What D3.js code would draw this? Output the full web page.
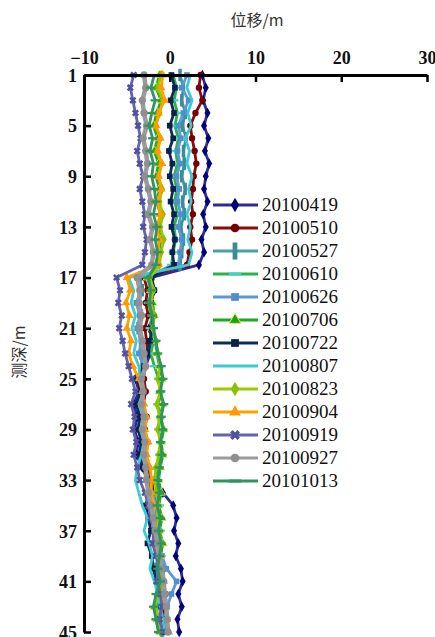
<!DOCTYPE html>
<html><head><meta charset="utf-8">
<script src="https://cdn.jsdelivr.net/npm/d3@7"></script>
<style>
body{margin:0;background:#fff;}
svg{display:block;}
.serif{font-family:"Liberation Serif","DejaVu Serif",serif;}
</style></head>
<body>
<script>
// ---- data ----
const depths = d3.range(1, 46); // 1..45 m
const xTicks = [-10, 0, 10, 20, 30];
const yTicks = [1, 5, 9, 13, 17, 21, 25, 29, 33, 37, 41, 45];
const seriesNames = ["20100419","20100510","20100527","20100610","20100626","20100706","20100722","20100807","20100823","20100904","20100919","20100927","20101013"];

const s20100419 = [3.8,4.2,3.9,4.4,4.0,4.5,4.1,4.6,4.2,4.0,4.4,3.9,4.2,3.7,4.0,3.4,
  -2.2,-1.8,-2.3,-1.9,-2.4,-2.0,-2.3,-2.8,
  -4.0,-3.6,-4.2,-3.8,-4.1,-3.7,-3.9,-3.2,-2.5,
  -0.8,0.4,0.8,0.5,1.0,0.7,1.3,1.5,1.0,1.4,0.9,1.1];
const s20100510 = [3.6,3.4,3.8,3.0,2.4,2.6,2.9,3.1,2.8,2.7,2.5,2.7,2.4,2.6,2.3,2.0,
  -3.0,-2.6,-2.8,-2.5,-2.9,-2.7,-2.6,-3.0,
  -3.0,-2.8,-3.1,-2.7,-2.9,-2.6,-2.8,-2.5,-2.2,
  -1.8,-1.6,-1.2,-1.4,-0.9,-1.1,-0.7,-0.9,-0.5,-0.8,-0.4,-0.6];
const s20100527 = [1.2,1.6,1.4,1.8,1.5,1.9,1.6,1.7,1.4,1.8,1.5,1.7,1.3,1.6,1.4,1.2,
  -3.5,-3.2,-3.6,-3.3,-3.7,-3.4,-3.3,-3.2,
  -3.4,-3.1,-3.5,-3.2,-3.0,-3.3,-2.9,-2.8,-2.6,
  -2.2,-2.0,-1.7,-1.9,-1.5,-1.3,-1.6,-1.2,-1.4,-1.0,-1.2,-0.9];
const s20100610 = [0.4,0.8,0.5,0.9,0.6,1.0,0.7,0.9,0.5,0.8,0.6,0.9,0.5,0.7,0.4,0.2,
  -2.4,-2.0,-2.5,-2.1,-2.3,-1.9,-2.2,-1.8,
  -1.3,-1.0,-1.4,-1.1,-1.3,-1.0,-1.2,-1.4,-1.6,
  -1.4,-1.2,-1.5,-1.1,-1.3,-1.0,-1.2,-0.9,-1.1,-1.4,-1.6,-1.3];
const s20100626 = [2.0,1.4,2.2,1.6,1.0,1.3,0.9,1.2,0.8,1.1,0.9,1.3,1.0,1.4,1.2,1.0,
  -3.8,-3.4,-3.9,-3.5,-3.8,-3.3,-3.6,-3.1,
  -3.6,-3.3,-3.8,-3.4,-3.7,-3.2,-3.5,-3.0,-2.8,
  -2.0,-1.6,-1.8,-1.2,-1.5,-0.9,-0.4,0.8,0.2,-0.3,-0.6,-0.4];
const s20100706 = [-1.2,-1.6,-1.0,-1.5,-1.9,-1.4,-1.8,-1.3,-1.6,-1.2,-1.5,-1.1,-1.4,-1.0,-1.3,-1.6,
  -2.6,-2.2,-2.0,-1.8,-2.1,-1.7,-1.5,-1.2,
  -0.9,-1.2,-0.8,-1.1,-0.7,-1.0,-0.8,-1.1,-1.3,
  -1.0,-1.3,-0.9,-1.2,-0.8,-1.1,-1.3,-1.0,-1.4,-1.8,-1.5,-1.2];
const s20100722 = [0.2,0.6,0.1,0.5,0.0,0.4,-0.1,0.3,0.0,0.4,0.1,0.5,0.2,0.6,0.3,0.5,
  -2.1,-1.8,-2.2,-1.9,-2.1,-2.3,-2.6,-3.0,
  -3.8,-3.4,-3.9,-3.5,-3.7,-3.3,-3.6,-3.1,-2.6,
  -2.4,-2.8,-2.5,-2.2,-2.6,-2.1,-1.9,-1.6,-1.3,-1.0,-0.8,-0.6];
const s20100807 = [2.4,2.0,2.6,2.1,2.5,1.8,2.3,2.0,2.6,2.2,2.5,2.0,2.4,2.1,2.6,2.2,
  -4.8,-4.2,-4.5,-4.0,-4.4,-3.9,-4.2,-3.6,
  -3.5,-3.0,-3.6,-3.1,-3.4,-3.0,-3.3,-3.8,-4.0,
  -3.6,-3.2,-2.6,-3.0,-2.4,-2.0,-2.3,-1.8,-1.4,-1.1,-0.8,-0.6];
const s20100823 = [-1.0,-1.4,-0.8,-1.2,-1.6,-1.1,-1.5,-1.0,-1.3,-0.9,-1.2,-0.8,-1.1,-0.7,-1.0,-1.2,
  -2.3,-1.9,-2.2,-1.8,-2.0,-1.6,-1.4,-1.1,
  -1.4,-1.1,-1.5,-1.2,-1.4,-1.1,-1.3,-1.6,-1.8,
  -1.6,-1.3,-1.5,-1.2,-1.0,-1.3,-0.9,-1.1,-1.4,-1.7,-1.3,-1.1];
const s20100904 = [-0.8,-1.0,-0.6,-1.3,-1.6,-1.1,-1.4,-0.9,-1.3,-1.0,-1.4,-1.1,-1.5,-1.2,-1.4,-1.3,
  -5.0,-4.6,-5.1,-4.7,-5.0,-4.5,-4.8,-4.3,
  -3.6,-3.2,-3.0,-2.7,-2.9,-2.5,-2.7,-2.3,-2.1,
  -2.2,-1.8,-2.0,-1.5,-1.7,-1.3,-1.0,-0.7,-0.9,-0.5,-0.3,-0.1];
const s20100919 = [-4.2,-4.6,-4.3,-4.0,-3.7,-3.4,-3.8,-3.5,-3.1,-3.5,-3.2,-2.9,-3.1,-2.7,-2.9,-3.2,
  -6.2,-5.8,-6.0,-5.6,-5.9,-5.5,-5.2,-4.8,
  -4.4,-4.0,-4.5,-4.1,-4.3,-3.9,-4.2,-3.8,-3.5,
  -2.9,-2.5,-2.2,-1.8,-2.0,-1.6,-1.3,-1.5,-1.1,-0.9,-1.2,-0.8];
const s20100927 = [-3.0,-2.8,-3.2,-3.0,-2.7,-3.1,-2.8,-2.6,-2.9,-2.5,-2.2,-2.5,-2.0,-2.3,-1.9,-2.1,
  -3.8,-3.5,-3.6,-3.3,-3.5,-3.2,-3.0,-2.8,
  -3.3,-3.1,-3.3,-3.0,-3.2,-2.9,-3.0,-2.8,-2.7,
  -2.5,-2.2,-1.9,-1.7,-1.4,-1.2,-0.9,-0.7,-0.6,-0.4,-0.3,-0.2];
const s20101013 = [-1.8,-2.2,-1.7,-2.1,-2.4,-2.0,-2.3,-1.9,-2.1,-1.8,-1.6,-1.9,-1.5,-1.7,-1.4,-1.6,
  -2.5,-2.2,-2.4,-2.0,-1.9,-1.6,-1.4,-1.0,
  -0.8,-1.1,-0.7,-1.0,-0.8,-1.1,-0.9,-1.2,-1.4,
  -1.2,-1.5,-1.1,-1.3,-1.0,-1.2,-1.4,-1.1,-1.6,-1.9,-1.6,-1.3];

const seriesValues = [s20100419,s20100510,s20100527,s20100610,s20100626,s20100706,s20100722,s20100807,s20100823,s20100904,s20100919,s20100927,s20101013];

// ---- styles ----
const barSym = {draw(ctx, size){ const h = Math.sqrt(size)*1.1; const w = h*0.28; ctx.rect(-w, -h, 2*w, 2*h); }};
const dashSym = {draw(ctx, size){ const w = Math.sqrt(size)*0.8; const h = w*0.25; ctx.rect(-w, -h, 2*w, 2*h); }};
const styles = [
  {line:"#2c2c92", mark:"#00007a", sym:d3.symbolDiamond, stroke:null},
  {line:"#8b0a0a", mark:"#760000", sym:d3.symbolCircle, stroke:null},
  {line:"#4a9ea8", mark:"#3b8e98", sym:barSym, stroke:null},
  {line:"#28b34c", mark:"#45d0c8", sym:dashSym, stroke:null},
  {line:"#5b9bd5", mark:"#4f8fca", sym:d3.symbolSquare, stroke:null},
  {line:"#1fa823", mark:"#1d9f20", sym:d3.symbolTriangle, stroke:"#e8f040"},
  {line:"#0d2c5e", mark:"#08204a", sym:d3.symbolSquare, stroke:null},
  {line:"#3fc9d2", mark:"#3fc9d2", sym:null, stroke:null},
  {line:"#9acb00", mark:"#8cc000", sym:d3.symbolDiamond, stroke:null},
  {line:"#ffa200", mark:"#ff9a00", sym:d3.symbolTriangle, stroke:null},
  {line:"#6464aa", mark:"#5050a0", sym:d3.symbolCross, stroke:null, rot:45},
  {line:"#9b9b9b", mark:"#8f8f8f", sym:d3.symbolCircle, stroke:null},
  {line:"#2e9462", mark:"#2e9462", sym:dashSym, stroke:null}
];

// ---- chart ----
const W = 435, H = 637;
const svg = d3.select("body").append("svg").attr("width", W).attr("height", H);
const x = d3.scaleLinear().domain([-10, 30]).range([84, 427]);
const y = d3.scaleLinear().domain([1, 45]).range([75, 632]);

const plot = svg.append("g");
const line = d3.line().x(d => x(d.v)).y(d => y(d.d));

seriesValues.forEach((vals, i) => {
  const st = styles[i];
  const pts = depths.map((d, j) => ({d, v: vals[j]}));
  plot.append("path").datum(pts)
    .attr("fill", "none").attr("stroke", st.line)
    .attr("stroke-width", i === 11 ? 4.5 : 2.8)
    .attr("stroke-linejoin", "round")
    .attr("d", line);
  if (st.sym) {
    plot.selectAll(null).data(pts).enter().append("path")
      .attr("transform", d => `translate(${x(d.v)},${y(d.d)})` + (st.rot ? ` rotate(${st.rot})` : ""))
      .attr("d", d3.symbol().type(st.sym).size(i === 11 ? 42 : 32))
      .attr("fill", st.mark)
      .attr("stroke", st.stroke || "none")
      .attr("stroke-width", 0.8);
  }
});

// axes
const gx = svg.append("g").attr("transform", `translate(0,${y(1)})`)
  .call(d3.axisTop(x).tickValues(xTicks).tickSizeInner(-7).tickSizeOuter(0).tickPadding(11)
    .tickFormat(d => d < 0 ? "\u2212" + Math.abs(d) : d));
const gy = svg.append("g").attr("transform", `translate(${x(-10)},0)`)
  .call(d3.axisLeft(y).tickValues(yTicks).tickSizeInner(-7).tickSizeOuter(0).tickPadding(7));
[gx, gy].forEach(g => {
  g.attr("font-family", null).attr("font-size", null);
  g.select(".domain").attr("stroke", "#000").attr("stroke-width", 3);
  g.selectAll(".tick line").attr("stroke", "#000").attr("stroke-width", 2.5);
  g.selectAll(".tick text").attr("fill", "#111").attr("class", "serif")
    .style("font-size", "18px").style("font-weight", "bold");
});
gy.selectAll(".tick text").attr("dy", "0.35em");

// axis titles
svg.append("text").attr("x", 257).attr("y", 26).attr("text-anchor", "middle")
  .style("font-family", "'Noto Sans CJK SC',sans-serif").style("font-size", "16px").attr("fill", "#333")
  .text("位移/m");
svg.append("text").attr("transform", "translate(25,352) rotate(-90)").attr("text-anchor", "middle")
  .style("font-family", "'Noto Sans CJK SC',sans-serif").style("font-size", "16px").attr("fill", "#333")
  .text("测深/m");

// legend
const leg = svg.append("g").attr("transform", "translate(213,205)");
seriesNames.forEach((name, i) => {
  const st = styles[i];
  const g = leg.append("g").attr("transform", `translate(0,${i * 23})`);
  g.append("line").attr("x1", 0).attr("x2", 45).attr("y1", 0).attr("y2", 0)
    .attr("stroke", st.line).attr("stroke-width", 3);
  if (st.sym) {
    g.append("path").attr("transform", `translate(22,0)` + (st.rot ? ` rotate(${st.rot})` : ""))
      .attr("d", d3.symbol().type(st.sym).size(60))
      .attr("fill", st.mark).attr("stroke", st.stroke || "none").attr("stroke-width", 1);
  }
  g.append("text").attr("x", 49).attr("y", 0).attr("dy", "0.33em").attr("class", "serif")
    .style("font-size", "19px").attr("fill", "#111")
    .text(name);
});
</script>
</body></html>
